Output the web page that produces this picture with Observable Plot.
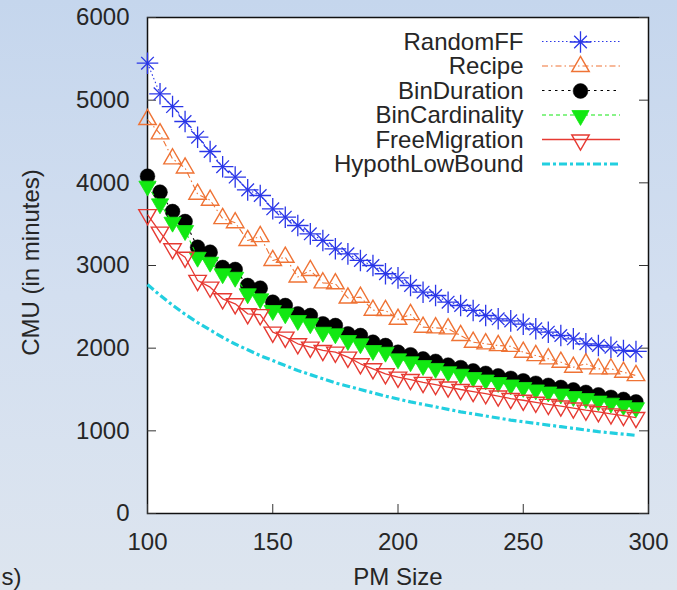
<!DOCTYPE html>
<html>
<head>
<meta charset="utf-8">
<script src="https://cdn.jsdelivr.net/npm/d3@7"></script>
<script src="https://cdn.jsdelivr.net/npm/@observablehq/plot@0.6"></script>
<style>
  html, body { margin: 0; padding: 0; }
  body { width: 677px; height: 590px; overflow: hidden;
         background: linear-gradient(to bottom, #c5d6ed 0%, #d3dff0 50%, #dde5ef 100%); }
  #chart svg { display: block; }
</style>
</head>
<body>
<div id="chart"></div>
<script>
// ---- data ----
const pmSize = [100,105,110,115,120,125,130,135,140,145,150,155,160,165,170,175,180,185,190,195,
                200,205,210,215,220,225,230,235,240,245,250,255,260,265,270,275,280,285,290,295];

const randomFF = [5447,5077,4923,4742,4552,4379,4195,4070,3915,3847,3686,3584,3484,3383,3303,3202,3141,3061,3000,2900,
                  2850,2758,2677,2637,2556,2516,2456,2395,2355,2330,2290,2234,2193,2153,2113,2053,2032,2012,1972,1960];
const recipe = [4766,4593,4290,4180,3863,3790,3568,3518,3303,3350,3061,3100,2862,2940,2790,2779,2607,2617,2460,2456,
                2350,2407,2254,2246,2234,2153,2072,2053,2032,2022,1951,1911,1871,1831,1770,1811,1750,1750,1710,1669];
const binDuration = [4080,3887,3653,3532,3221,3161,2976,2952,2758,2726,2556,2516,2416,2395,2295,2274,2174,2153,2072,2032,
                     1951,1920,1870,1840,1795,1765,1725,1695,1665,1635,1605,1575,1550,1525,1495,1465,1435,1405,1380,1350];
const binCardinality = [3960,3746,3524,3423,3100,3040,2900,2858,2658,2597,2456,2416,2335,2295,2193,2174,2093,2053,1972,1951,
                        1871,1835,1790,1755,1715,1685,1645,1615,1585,1555,1525,1495,1470,1445,1415,1390,1360,1335,1305,1280];
const freeMigration = [3615,3403,3202,3100,2819,2738,2597,2537,2416,2405,2193,2133,2053,2012,1972,1951,1891,1811,1750,1690,
                       1649,1620,1585,1560,1530,1500,1475,1450,1420,1390,1370,1345,1320,1300,1275,1250,1230,1205,1185,1160];
const hypothLowBound = [2770,2640,2520,2410,2310,2220,2130,2050,1980,1910,1850,1790,1730,1680,1630,1580,1540,1500,1460,1420,
                        1385,1350,1320,1290,1260,1230,1205,1180,1155,1130,1110,1090,1070,1050,1030,1010,990,975,960,945];

const seriesNames = ["RandomFF","Recipe","BinDuration","BinCardinality","FreeMigration","HypothLowBound"];
const xTicks = [100,150,200,250,300];
const yTicks = [0,1000,2000,3000,4000,5000,6000];

// ---- styles ----
const styles = [
  {values: randomFF,       color: "#2a36e8", dash: "1.5,2.5",   width: 1.1, marker: "star"},
  {values: recipe,         color: "#ef7335", dash: "6,3,1.5,3", width: 1.1, marker: "triUpOpen"},
  {values: binDuration,    color: "#000000", dash: "2.5,4",     width: 1.1, marker: "circle"},
  {values: binCardinality, color: "#12e812", dash: "4,3",       width: 1.1, marker: "triDownFilled"},
  {values: freeMigration,  color: "#e63a32", dash: null,        width: 1.3, marker: "triDownOpen"},
  {values: hypothLowBound, color: "#22cfe0", dash: "8,3,3,3",   width: 3.2, marker: null}
];

const W = 677, H = 590, ML = 147, MR = 29, MT = 17, MB = 77;
const FW = W - ML - MR, FH = H - MT - MB;
const FONT = 24;
const TXT = "#262626";

function markerMarks(data, s, extra) {
  const base = Object.assign({}, extra);
  switch (s.marker) {
    case "star": return [
      Plot.dot(data, {...base, symbol: "plus", r: 7, stroke: s.color, strokeWidth: 1.3}),
      Plot.dot(data, {...base, symbol: "times", r: 5.8, stroke: s.color, strokeWidth: 1.3})
    ];
    case "triUpOpen": return [
      Plot.dot(data, {...base, symbol: "triangle", r: 6.5, fill: "none", stroke: s.color, strokeWidth: 1.4})
    ];
    case "circle": return [
      Plot.dot(data, {...base, symbol: "circle", r: 7.4, fill: s.color, stroke: s.color, strokeWidth: 0.5})
    ];
    case "triDownFilled": return [
      Plot.dot(data, {...base, symbol: "triangle", r: 6.4, rotate: 180, fill: s.color, stroke: s.color, strokeWidth: 0.8})
    ];
    case "triDownOpen": return [
      Plot.dot(data, {...base, symbol: "triangle", r: 6.5, rotate: 180, fill: "none", stroke: s.color, strokeWidth: 1.4})
    ];
    default: return [];
  }
}

const dataMarks = [];
styles.forEach((s) => {
  const rows = pmSize.map((x, j) => ({x, y: s.values[j]}));
  dataMarks.push(Plot.line(rows, {x: "x", y: "y", stroke: s.color, strokeWidth: s.width,
                                  strokeDasharray: s.dash || undefined, strokeLinecap: "butt"}));
  dataMarks.push(...markerMarks(rows, s, {x: "x", y: "y"}));
});

// legend
const ROW = 24.5;
const legendMarks = [];
legendMarks.push((index, scales, values, dims) => {
  const g = d3.create("svg:g");
  const right = dims.width - dims.marginRight;
  styles.forEach((s, i) => {
    const y = dims.marginTop + ROW * (i + 1);
    const l = g.append("line")
      .attr("x1", right - 106).attr("x2", right - 28)
      .attr("y1", y).attr("y2", y)
      .attr("stroke", s.color).attr("stroke-width", s.width)
      .attr("stroke-linecap", "butt");
    if (s.dash) l.attr("stroke-dasharray", s.dash);
  });
  return g.node();
});
seriesNames.forEach((name, i) => {
  legendMarks.push(Plot.text([name], {frameAnchor: "top-right", dx: -125, dy: ROW * (i + 1),
    text: d => d, textAnchor: "end", lineAnchor: "middle", fontSize: FONT, fill: TXT}));
  legendMarks.push(...markerMarks([name], styles[i], {frameAnchor: "top-right", dx: -68, dy: ROW * (i + 1)}));
});

const chart = Plot.plot({
  width: W, height: H,
  marginLeft: ML, marginRight: MR, marginTop: MT, marginBottom: MB,
  style: {background: "transparent", fontFamily: "'Liberation Sans', Arial, sans-serif",
          fontSize: FONT + "px", color: TXT, overflow: "visible"},
  x: {domain: [100, 300]},
  y: {domain: [0, 6000]},
  marks: [
    Plot.frame({fill: "white", stroke: "#111", strokeWidth: 1.5}),
    Plot.tickY(yTicks, {y: d => d, insetRight: FW - 9, stroke: "#333", strokeWidth: 1}),
    Plot.tickY(yTicks, {y: d => d, insetLeft: FW - 9, stroke: "#333", strokeWidth: 1}),
    Plot.tickX(xTicks, {x: d => d, insetTop: FH - 9, stroke: "#333", strokeWidth: 1}),
    Plot.axisX({ticks: xTicks, tickSize: 0, tickPadding: 19, label: null, tickFormat: d => String(d), fill: TXT}),
    Plot.axisY({ticks: yTicks, tickSize: 0, tickPadding: 18, label: null, tickFormat: d => String(d), fill: TXT}),
    Plot.text(["CMU (in minutes)"], {frameAnchor: "left", dx: -116, dy: -3, rotate: -90,
      text: d => d, textAnchor: "middle", lineAnchor: "middle", fontSize: FONT, fill: TXT}),
    Plot.text(["PM Size"], {frameAnchor: "bottom", dy: 64, text: d => d, textAnchor: "middle",
      lineAnchor: "middle", fontSize: FONT, fill: TXT}),
    Plot.text(["s)"], {frameAnchor: "bottom-left", dx: -ML + 1, dy: 64, textAnchor: "start",
      lineAnchor: "middle", text: d => d, fontSize: FONT, fill: TXT}),
    ...dataMarks,
    ...legendMarks
  ]
});
document.getElementById("chart").appendChild(chart);
</script>
</body>
</html>
